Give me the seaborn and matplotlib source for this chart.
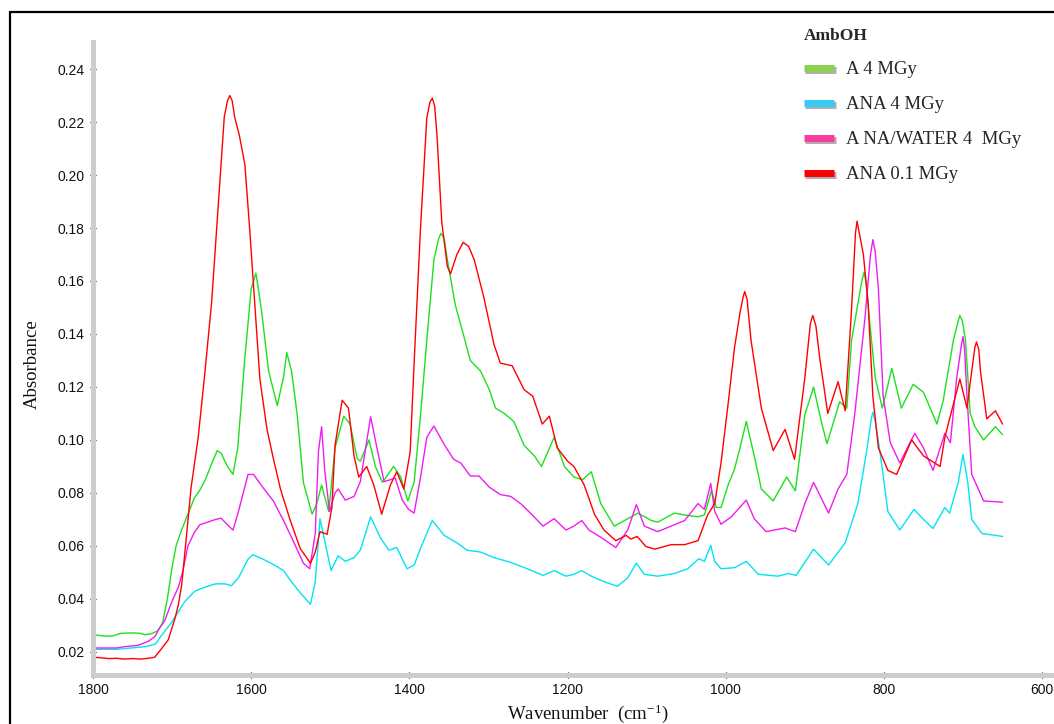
import pandas as pd
import matplotlib.pyplot as plt
import matplotlib.patheffects as pe
from matplotlib.lines import Line2D
from matplotlib.ticker import MultipleLocator, FormatStrFormatter
import seaborn as sns

# ---- spectra (wavenumber cm-1, absorbance) ----
wn_a4 = [1800, 1785, 1776, 1765, 1750, 1740, 1734, 1725, 1718, 1712, 1706, 1700, 1695, 1688, 1680,
         1672, 1665, 1658, 1650, 1643, 1638, 1630, 1623, 1617, 1608, 1600, 1594, 1587, 1578, 1567,
         1559, 1555, 1549, 1542, 1534, 1523, 1517, 1511, 1502, 1494, 1483, 1475, 1466, 1462, 1451,
         1443, 1434, 1420, 1411, 1402, 1394, 1386, 1378, 1369, 1363, 1360, 1356, 1352, 1342, 1331, 1323, 1310,
         1299, 1291, 1280, 1268, 1255, 1242, 1233, 1217, 1204, 1192, 1181, 1170, 1158, 1141, 1128,
         1111, 1094, 1086, 1065, 1052, 1035, 1027, 1018, 1012, 1006, 997, 989, 982, 974, 963,
         955, 940, 923, 912, 900, 889, 879, 872, 856, 847, 841, 828, 825, 822, 818, 811, 802,
         790, 778, 763, 750, 733, 725, 712, 706, 704, 701, 697, 691, 685, 674, 659, 650]
abs_a4 = [0.0265, 0.026, 0.026, 0.027, 0.0272, 0.027, 0.0265, 0.027, 0.028, 0.031, 0.040, 0.052, 0.060, 0.066, 0.072,
          0.078, 0.081, 0.085, 0.091, 0.096, 0.095, 0.090, 0.087, 0.097, 0.131, 0.157, 0.163, 0.149, 0.126, 0.113,
          0.124, 0.133, 0.126, 0.110, 0.084, 0.072, 0.076, 0.083, 0.073, 0.097, 0.109, 0.106, 0.093, 0.092, 0.100,
          0.090, 0.084, 0.090, 0.086, 0.077, 0.084, 0.109, 0.1375, 0.168, 0.176, 0.178, 0.176, 0.168, 0.151, 0.139, 0.130, 0.126,
          0.119, 0.112, 0.110, 0.107, 0.098, 0.094, 0.090, 0.101, 0.090, 0.086, 0.085, 0.088, 0.076, 0.0675, 0.0696,
          0.0724, 0.0696, 0.069, 0.0724, 0.0717, 0.071, 0.0717, 0.081, 0.0745, 0.0745, 0.083, 0.089, 0.097, 0.107, 0.0927,
          0.0815, 0.077, 0.086, 0.0808, 0.1095, 0.120, 0.1067, 0.0986, 0.1144, 0.112, 0.1375, 0.160, 0.1634, 0.158, 0.1445, 0.1235, 0.112,
          0.127, 0.112, 0.121, 0.118, 0.106, 0.115, 0.138, 0.145, 0.147, 0.145, 0.138, 0.110, 0.105, 0.100, 0.105, 0.102]

wn_ana4 = [1800, 1785, 1770, 1752, 1734, 1721, 1714, 1701, 1684, 1671, 1658, 1645, 1633, 1625, 1616,
           1604, 1598, 1585, 1572, 1559, 1551, 1538, 1525, 1519, 1513, 1506, 1499, 1490, 1481, 1470,
           1462, 1449, 1437, 1426, 1416, 1403, 1394, 1384, 1371, 1356, 1340, 1327, 1310, 1293, 1272,
           1251, 1231, 1217, 1202, 1192, 1182, 1170, 1154, 1137, 1124, 1113, 1103, 1086, 1065, 1048,
           1034, 1027, 1019, 1014, 1006, 989, 974, 959, 934, 921, 911, 889, 870, 849, 833,
           822, 816, 814, 811, 805, 795, 780, 762, 750, 738, 723, 717, 706, 700, 694, 689, 676, 650]
abs_ana4 = [0.021, 0.021, 0.021, 0.0215, 0.022, 0.023, 0.026, 0.031, 0.039, 0.043, 0.0445, 0.0457, 0.0457, 0.045, 0.048,
            0.055, 0.0567, 0.055, 0.053, 0.0507, 0.0472, 0.0423, 0.038, 0.0465, 0.0703, 0.0605, 0.0507, 0.0563, 0.0542, 0.0556,
            0.0584, 0.071, 0.0633, 0.0584, 0.0594, 0.0514, 0.0528, 0.0605, 0.0696, 0.064, 0.0612, 0.0584, 0.0577, 0.0556, 0.0538,
            0.0514, 0.0489, 0.0507, 0.0486, 0.0493, 0.0507, 0.0486, 0.0465, 0.0448, 0.0479, 0.0535, 0.0493, 0.0486, 0.0496, 0.0514,
            0.0552, 0.0542, 0.0602, 0.0542, 0.0514, 0.0518, 0.0542, 0.0493, 0.0486, 0.0496, 0.0489, 0.0588, 0.0528, 0.0612, 0.076,
            0.0955, 0.108, 0.1105, 0.107, 0.0955, 0.073, 0.066, 0.0738, 0.070, 0.0666, 0.0745, 0.0724, 0.084, 0.0945, 0.084, 0.070, 0.0647, 0.0636]

wn_anw4 = [1800, 1770, 1760, 1743, 1730, 1721, 1718, 1709, 1701, 1692, 1686, 1680, 1672, 1665, 1655,
           1645, 1638, 1630, 1623, 1617, 1610, 1604, 1597, 1585, 1572, 1559, 1547, 1534, 1526, 1519,
           1515, 1511, 1507, 1501, 1494, 1490, 1481, 1470, 1462, 1449, 1441, 1432, 1424, 1418, 1409,
           1401, 1394, 1386, 1378, 1369, 1356, 1344, 1335, 1323, 1312, 1299, 1285, 1272, 1259, 1247,
           1231, 1217, 1202, 1192, 1182, 1173, 1158, 1139, 1124, 1113, 1103, 1086, 1069, 1052, 1035,
           1027, 1019, 1014, 1006, 993, 974, 964, 949, 925, 912, 900, 889, 870, 858, 847,
           837, 824, 817, 814, 811, 807, 801, 792, 780, 761, 750, 738, 723, 716, 708, 702, 700, 698, 695,
           689, 674, 650]
abs_anw4 = [0.0215, 0.0215, 0.022, 0.0225, 0.024, 0.026, 0.028, 0.032, 0.0385, 0.0445, 0.051, 0.060, 0.065, 0.068, 0.069,
            0.070, 0.0705, 0.068, 0.066, 0.072, 0.080, 0.087, 0.087, 0.082, 0.077, 0.0695, 0.062, 0.0535, 0.0514, 0.0647,
            0.0955, 0.105, 0.0885, 0.073, 0.080, 0.0815, 0.0773, 0.0787, 0.0843, 0.1088, 0.097, 0.0843, 0.085, 0.0857, 0.0773,
            0.0738, 0.0724, 0.0857, 0.101, 0.1053, 0.0983, 0.0927, 0.0913, 0.0864, 0.0864, 0.0822, 0.0794, 0.0787, 0.0759, 0.0724,
            0.0675, 0.0703, 0.066, 0.0675, 0.0696, 0.066, 0.0633, 0.0594, 0.066, 0.0756, 0.0675, 0.0654, 0.0675, 0.0696, 0.076,
            0.0738, 0.0836, 0.0731, 0.0682, 0.071, 0.0773, 0.0703, 0.0654, 0.0668, 0.0654, 0.076, 0.084, 0.0724, 0.0815, 0.087,
            0.1095, 0.146, 0.170, 0.1756, 0.171, 0.157, 0.1165, 0.099, 0.0913, 0.1025, 0.097, 0.0885, 0.1025, 0.099, 0.1235, 0.136, 0.139, 0.134, 0.1165,
            0.087, 0.077, 0.0765]

wn_ana01 = [1800, 1790, 1780, 1770, 1760, 1750, 1740, 1730, 1722, 1714, 1705, 1696, 1692, 1688, 1684,
            1676, 1667, 1659, 1650, 1642, 1634, 1630, 1627, 1624, 1621, 1615, 1608, 1602, 1597, 1589, 1580, 1572,
            1563, 1551, 1538, 1525, 1519, 1513, 1504, 1498, 1494, 1485, 1477, 1470, 1464, 1454, 1445,
            1435, 1424, 1416, 1407, 1399, 1394, 1386, 1378, 1374, 1371, 1368, 1365, 1359, 1352, 1348, 1340, 1332, 1325, 1318,
            1306, 1293, 1285, 1270, 1255, 1244, 1232, 1223, 1213, 1200, 1192, 1179, 1166, 1154, 1139,
            1126, 1120, 1112, 1101, 1090, 1069, 1052, 1035, 1023, 1014, 1006, 997, 989, 982, 978, 976, 973,
            968, 955, 940, 925, 913, 900, 893, 890, 886, 881, 871, 858, 849, 841, 836, 834, 831, 826, 820,
            814, 807, 795, 784, 765, 750, 729, 723, 712, 704, 695, 689, 685, 683, 680, 678, 670,
            659, 650]
abs_ana01 = [0.018, 0.0178, 0.0175, 0.0176, 0.0173, 0.0175, 0.0173, 0.0176, 0.018, 0.021, 0.0245, 0.033, 0.038, 0.045, 0.057,
             0.082, 0.101, 0.124, 0.152, 0.187, 0.222, 0.228, 0.230, 0.228, 0.222, 0.215, 0.204, 0.180, 0.158, 0.123, 0.104, 0.093,
             0.0815, 0.070, 0.059, 0.0535, 0.0577, 0.0654, 0.0644, 0.0745, 0.098, 0.115, 0.112, 0.094, 0.086, 0.090, 0.083,
             0.072, 0.083, 0.088, 0.0815, 0.0955, 0.129, 0.1795, 0.2215, 0.2275, 0.229, 0.226, 0.2145, 0.182, 0.1655, 0.1627, 0.170, 0.1746, 0.173, 0.168,
             0.154, 0.136, 0.129, 0.128, 0.119, 0.1165, 0.106, 0.109, 0.097, 0.092, 0.090, 0.083, 0.072, 0.066, 0.062,
             0.064, 0.0626, 0.0636, 0.0598, 0.0588, 0.0605, 0.0605, 0.062, 0.0717, 0.076, 0.0913, 0.1137, 0.1347, 0.148, 0.154, 0.156, 0.153,
             0.1375, 0.112, 0.096, 0.104, 0.0927, 0.1235, 0.144, 0.147, 0.143, 0.1305, 0.110, 0.122, 0.111, 0.149, 0.178, 0.1826, 0.178, 0.170, 0.1515,
             0.1165, 0.097, 0.0885, 0.087, 0.100, 0.094, 0.090, 0.101, 0.1137, 0.123, 0.112, 0.126, 0.135, 0.137, 0.134, 0.126, 0.108,
             0.111, 0.106]

labels = ['A 4 MGy', 'ANA 4 MGy', 'A NA/WATER 4  MGy', 'ANA 0.1 MGy']
line_colors = ['#1ee01e', '#00e4f4', '#f01cf0', '#ff0000']
legend_colors = ['#8cd24e', '#36caf8', '#f83c9c', '#fc0000']

series = [(wn_a4, abs_a4), (wn_ana4, abs_ana4), (wn_anw4, abs_anw4), (wn_ana01, abs_ana01)]
frames = []
for lab, (w, a) in zip(labels, series):
    assert len(w) == len(a), (lab, len(w), len(a))
    frames.append(pd.DataFrame({'Wavenumber': w, 'Absorbance': a, 'Sample': lab}))
df = pd.concat(frames, ignore_index=True)

sns.set_theme(style="white")
plt.rcParams['font.family'] = ['Liberation Sans', 'DejaVu Sans']
plt.rcParams['mathtext.default'] = 'regular'

fig = plt.figure(figsize=(10.54, 7.24), dpi=100)
ax = fig.add_axes([93 / 1054, 49 / 724, 1 - 93 / 1054, 633 / 724])

sns.lineplot(data=df, x='Wavenumber', y='Absorbance', hue='Sample', hue_order=labels,
             palette=dict(zip(labels, line_colors)), estimator=None, linewidth=1.0,
             legend=False, ax=ax)

ax.set_xlim(1800, 585)
ax.set_ylim(0.0113, 0.2502)
ax.xaxis.set_major_locator(MultipleLocator(200))
ax.xaxis.set_minor_locator(MultipleLocator(50))
ax.yaxis.set_major_locator(MultipleLocator(0.02))
ax.yaxis.set_minor_locator(MultipleLocator(0.004))
ax.yaxis.set_major_formatter(FormatStrFormatter('%.2f'))

for side in ['top', 'right']:
    ax.spines[side].set_visible(False)
for side in ['left', 'bottom']:
    ax.spines[side].set_color('#cdcdcd')
    ax.spines[side].set_linewidth(3.6)
ax.tick_params(which='major', direction='inout', length=4, width=0.9, color='black',
               labelsize=10, labelcolor='#111111', left=True, bottom=True, pad=4)
ax.tick_params(which='minor', direction='inout', length=2.5, width=0.8, color='#222222',
               left=True, bottom=True)

serif = ['Liberation Serif', 'DejaVu Serif']
ax.set_xlabel('Wavenumber  (cm$^{-1}$)', family=serif, fontsize=13.5, color='#111111')
ax.set_ylabel('Absorbance', family=serif, fontsize=13.5, color='#111111')
ax.xaxis.set_label_coords(0.515, -0.044)
ax.yaxis.set_label_coords(-0.054, 0.491)

handles = [Line2D([0], [0], color=c, lw=5, solid_capstyle='butt') for c in legend_colors]
leg = ax.legend(handles, labels, loc='upper left', bbox_transform=fig.transFigure,
                bbox_to_anchor=(796 / 1054, 1 - 20 / 724), frameon=False,
                title='AmbOH', alignment='left', handlelength=1.65, handletextpad=0.6,
                labelspacing=0.95, borderaxespad=0,
                prop={'family': serif, 'size': 13.5},
                title_fontproperties={'family': serif, 'size': 12.5, 'weight': 'bold'})
for h in leg.get_lines():
    h.set_path_effects([pe.SimpleLineShadow(offset=(0.8, -1.5), alpha=0.35), pe.Normal()])

# outer frame of the original figure
fig.add_artist(Line2D([10 / 1054, 10 / 1054], [0, 1 - 12 / 724], transform=fig.transFigure,
                      color='black', lw=1.6))
fig.add_artist(Line2D([10 / 1054, 1], [1 - 12 / 724, 1 - 12 / 724], transform=fig.transFigure,
                      color='black', lw=1.6))

fig.savefig('out.png', dpi=100)
